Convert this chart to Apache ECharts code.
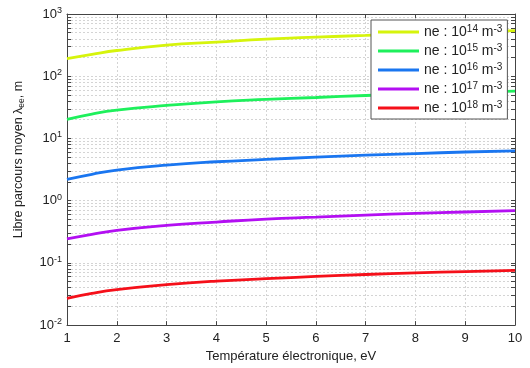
<!DOCTYPE html>
<html>
<head>
<meta charset="utf-8">
<script src="https://cdn.jsdelivr.net/npm/echarts@6/dist/echarts.min.js"></script>
<style>html,body{margin:0;padding:0;background:#fff;}#c{width:530px;height:368px;}</style>
</head>
<body>
<div id="c"></div>
<script>
const temps = [1, 1.5, 2, 3, 4, 5, 6, 7, 8, 9, 10];
const ne14 = [191, 224, 259, 316, 353, 394, 425, 452, 480, 510, 541];
const ne15 = [20.3, 24.7, 28.5, 33.9, 38.8, 42.3, 45.5, 49, 52, 55, 57.4];
const ne16 = [2.2, 2.65, 3.1, 3.73, 4.22, 4.6, 5.0, 5.38, 5.72, 6.05, 6.33];
const ne17 = [0.243, 0.288, 0.333, 0.40, 0.453, 0.506, 0.545, 0.586, 0.623, 0.657, 0.69];
const ne18 = [0.027, 0.0324, 0.0372, 0.0447, 0.051, 0.0557, 0.0605, 0.065, 0.069, 0.0725, 0.0755];
const seriesNames = ['ne14', 'ne15', 'ne16', 'ne17', 'ne18'];
const seriesExp = ['14', '15', '16', '17', '18'];
const seriesColors = ['#d6f40c', '#1ef05c', '#1a76f0', '#b30ff2', '#f5101a'];
const xTicks = [1, 2, 3, 4, 5, 6, 7, 8, 9, 10];
const yMajor = [0.01, 0.1, 1, 10, 100, 1000];

const allSeries = [ne14, ne15, ne16, ne17, ne18];
const minorVals = [];
for (let d = -2; d < 3; d++) {
  for (let k = 1; k <= 9; k++) minorVals.push(+(k * Math.pow(10, d)).toPrecision(3));
}
minorVals.push(1000);

const font = 'Liberation Sans, Arial, sans-serif';
const gridCol = '#d4d4d4';
const axisCol = '#444';

function yAxisDef(pos, showLabel) {
  return {
    type: 'log', logBase: 10, min: 0.01, max: 1000, position: pos,
    axisLine: { show: true, lineStyle: { color: axisCol, width: 1 } },
    axisTick: { show: true, inside: true, length: 4, lineStyle: { color: axisCol }, customValues: minorVals },
    minorTick: { show: false },
    splitLine: { show: showLabel, lineStyle: { color: gridCol, type: [2, 2], width: 1 } },
    axisLabel: {
      show: showLabel, fontFamily: font, fontSize: 13, color: '#222', margin: 5,
      customValues: yMajor,
      formatter: function (v) {
        const e = Math.round(Math.log10(v));
        return '{b|10}{s|' + e + '}';
      },
      rich: {
        b: { fontFamily: font, fontSize: 13, color: '#222' },
        s: { fontFamily: font, fontSize: 9, color: '#222', verticalAlign: 'top', padding: [0, 0, 7, 0] }
      }
    },
    name: showLabel ? 'Libre parcours moyen {l|λ}{sub|ee}, m' : '',
    nameLocation: 'middle',
    nameGap: 41,
    nameRotate: 90,
    nameTextStyle: {
      fontFamily: font, fontSize: 12.5, color: '#222',
      padding: [0, 0, 0, 20],
      rich: {
        l: { fontFamily: font, fontSize: 12.5, color: '#222' },
        sub: { fontFamily: font, fontSize: 8.5, color: '#222', verticalAlign: 'bottom', padding: [6, 0, 0, 0] }
      }
    }
  };
}

function xAxisDef(pos, showLabel) {
  return {
    type: 'value', min: 1, max: 10, interval: 1, position: pos,
    axisLine: { show: true, onZero: false, lineStyle: { color: axisCol, width: 1 } },
    axisTick: { show: true, inside: true, length: 4, lineStyle: { color: axisCol } },
    splitLine: { show: showLabel, lineStyle: { color: gridCol, type: [2, 2], width: 1 } },
    axisLabel: { show: showLabel, fontFamily: font, fontSize: 13, color: '#222', margin: 7 },
    name: showLabel ? 'Température électronique, eV' : '',
    nameLocation: 'middle', nameGap: 22,
    nameTextStyle: { fontFamily: font, fontSize: 13, color: '#222' }
  };
}

const series = allSeries.map(function (arr, i) {
  return {
    name: seriesNames[i], type: 'line', smooth: true, showSymbol: false,
    xAxisIndex: 0, yAxisIndex: 0,
    data: temps.map(function (t, j) { return [t, arr[j]]; }),
    lineStyle: { color: seriesColors[i], width: 2.8 },
    itemStyle: { color: seriesColors[i] },
    z: 3
  };
});

const chart = echarts.init(document.getElementById('c'), null, { renderer: 'canvas' });
chart.setOption({
  animation: false,
  backgroundColor: '#fff',
  grid: { left: 67, right: 15, top: 14, bottom: 41, containLabel: false },
  xAxis: [xAxisDef('bottom', true), xAxisDef('top', false)],
  yAxis: [yAxisDef('left', true), yAxisDef('right', false)],
  legend: {
    data: seriesNames, orient: 'vertical', left: 371, top: 20,
    backgroundColor: '#fff', borderColor: '#555', borderWidth: 1,
    padding: [4, 5, 4, 7], itemGap: 4, itemWidth: 41, itemHeight: 3,
    icon: 'rect',
    formatter: function (name) {
      const i = seriesNames.indexOf(name);
      return '{t|ne : 10}{s|' + seriesExp[i] + '}{t| m}{s|-3}';
    },
    textStyle: {
      fontFamily: font, fontSize: 14, color: '#222',
      rich: {
        t: { fontFamily: font, fontSize: 14, color: '#222' },
        s: { fontFamily: font, fontSize: 10, color: '#222', verticalAlign: 'top', padding: [0, 0, 6, 0] }
      }
    }
  },
  series: series
});
</script>
</body>
</html>
